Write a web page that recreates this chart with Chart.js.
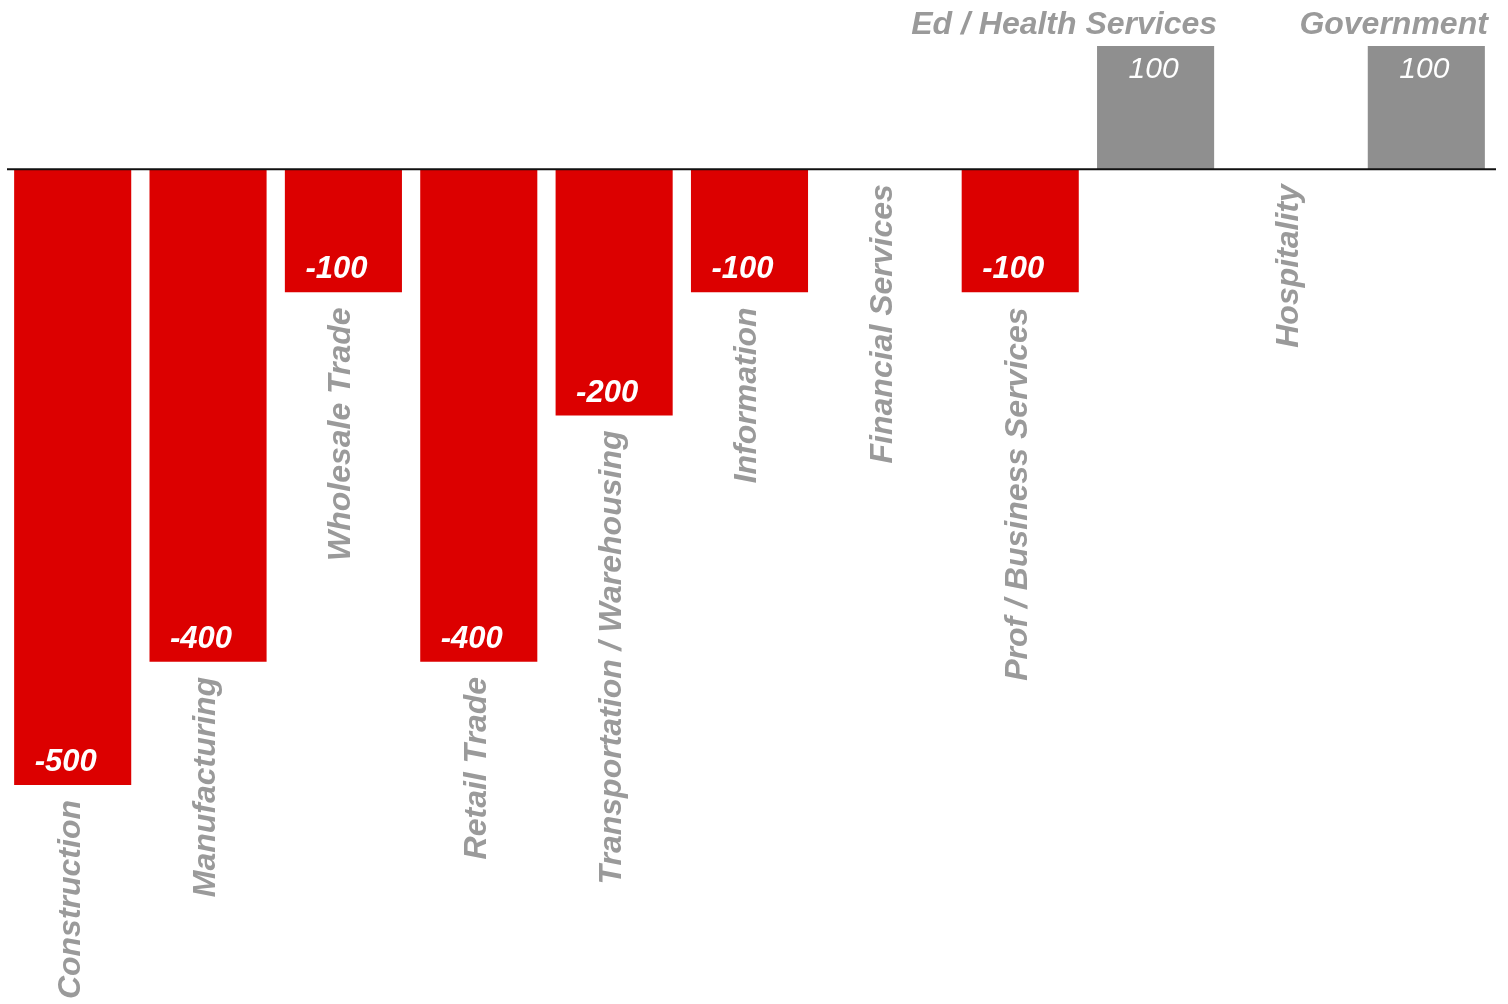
<!DOCTYPE html>
<html>
<head>
<meta charset="utf-8">
<script src="https://cdn.jsdelivr.net/npm/chart.js@4"></script>
<style>
  html, body { margin: 0; padding: 0; background: #ffffff; }
  canvas { display: block; }
</style>
</head>
<body>
<canvas id="grafico" width="1508" height="1004"></canvas>
<script>
const categorias = ['Construction', 'Manufacturing', 'Wholesale Trade', 'Retail Trade', 'Transportation / Warehousing', 'Information', 'Financial Services', 'Prof / Business Services', 'Ed / Health Services', 'Hospitality', 'Government'];
const cambios = [-500, -400, -100, -400, -200, -100, 0, -100, 100, 0, 100];

const rojo = '#dc0000';
const gris = '#8f8f8f';
const grisTexto = '#9a9a9a';
const fuente = '"Liberation Sans", Arial, Helvetica, sans-serif';

const colores = cambios.map(v => v < 0 ? rojo : gris);

// Linea del cero y etiquetas de cada barra
const pluginEtiquetas = {
  id: 'etiquetasSectores',
  afterDatasetsDraw: (chart) => {
    const { ctx } = chart;
    const y = chart.scales.y;
    const y0 = y.getPixelForValue(0);
    const barras = chart.getDatasetMeta(0).data;

    ctx.save();
    ctx.strokeStyle = '#111111';
    ctx.lineWidth = 2;
    ctx.beginPath();
    ctx.moveTo(7, y0);
    ctx.lineTo(1496, y0);
    ctx.stroke();

    barras.forEach((barra, i) => {
      const valor = cambios[i];
      const xc = barra.x;
      const derecha = barra.x + barra.width / 2;

      if (valor > 0) {
        // nombre encima de la barra, alineado a la derecha
        ctx.fillStyle = grisTexto;
        ctx.font = 'italic bold 32px ' + fuente;
        ctx.textAlign = 'right';
        ctx.textBaseline = 'alphabetic';
        ctx.fillText(categorias[i], derecha + 3, 34);

        ctx.fillStyle = '#ffffff';
        ctx.font = 'italic 30px ' + fuente;
        ctx.textAlign = 'center';
        ctx.fillText(String(valor), xc - 2, barra.y + 32);
      } else {
        const fondo = valor < 0 ? barra.y : y0;
        if (valor < 0) {
          ctx.fillStyle = '#ffffff';
          ctx.font = 'italic bold 31px ' + fuente;
          ctx.textAlign = 'center';
          ctx.textBaseline = 'alphabetic';
          ctx.fillText(String(valor), xc - 7, fondo - 14);
        }
        // nombre vertical debajo de la barra
        ctx.save();
        ctx.translate(xc - 2, fondo + 15);
        ctx.rotate(-Math.PI / 2);
        ctx.fillStyle = grisTexto;
        ctx.font = 'italic bold 32px ' + fuente;
        ctx.textAlign = 'right';
        ctx.textBaseline = 'middle';
        ctx.fillText(categorias[i], 0, 0);
        ctx.restore();
      }
    });
    ctx.restore();
  }
};

new Chart(document.getElementById('grafico'), {
  type: 'bar',
  data: {
    labels: categorias,
    datasets: [{
      data: cambios,
      backgroundColor: colores,
      borderWidth: 0,
      categoryPercentage: 1,
      barPercentage: 0.865
    }]
  },
  options: {
    responsive: false,
    animation: false,
    layout: {
      padding: { left: 5, right: 14, top: 46, bottom: 219 }
    },
    scales: {
      x: { display: false },
      y: { display: false, min: -500, max: 100 }
    },
    plugins: {
      legend: { display: false },
      tooltip: { enabled: false }
    }
  },
  plugins: [pluginEtiquetas]
});
</script>
</body>
</html>
